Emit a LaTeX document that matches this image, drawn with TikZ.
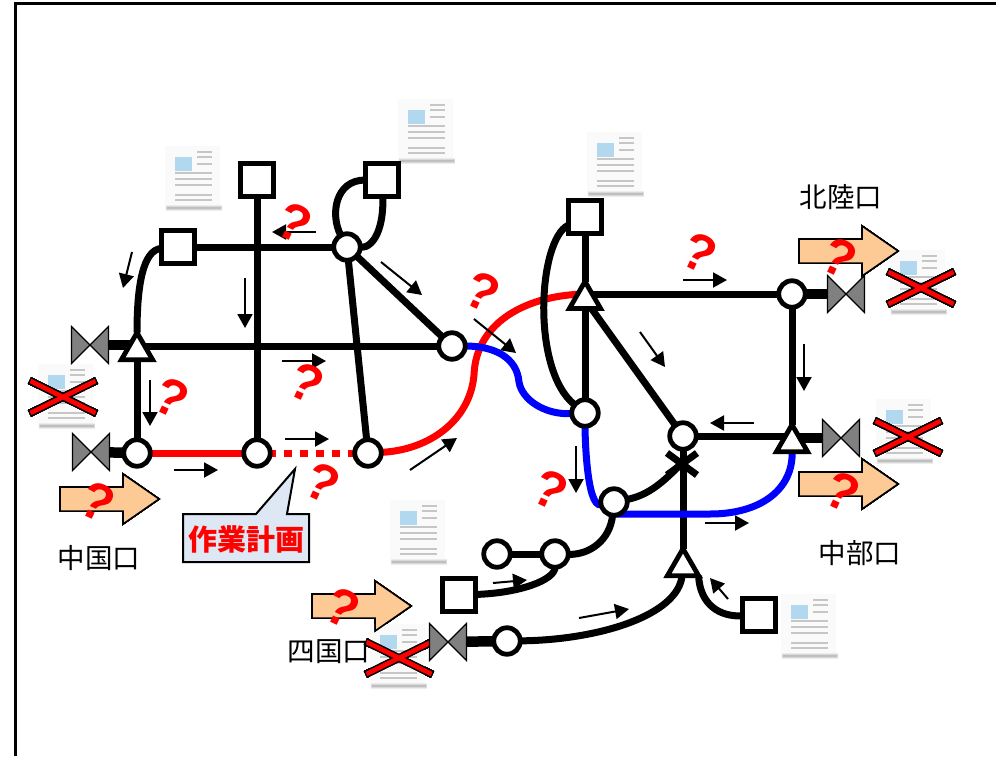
\documentclass[tikz,border=0pt]{standalone}
\usepackage{fontspec}
\setmainfont{Liberation Sans}
\newfontfamily\cjk{Noto Sans CJK JP}
\usetikzlibrary{arrows.meta}
\usetikzlibrary{backgrounds}
\usetikzlibrary{shapes.geometric}
\definecolor{gatefill}{gray}{.5}
\definecolor{inflow}{RGB}{253,202,150}
\definecolor{balloon}{RGB}{222,232,244}
\definecolor{sheetblue}{RGB}{178,216,240}
\tikzset{
  station/.style={circle, draw, line width=4.8pt, fill=white, minimum size=26.5pt, inner sep=0pt, outer sep=0pt},
  depot/.style={rectangle, draw, line width=4.8pt, fill=white, minimum size=33.5pt, inner sep=0pt, outer sep=0pt},
  branch/.style={regular polygon, regular polygon sides=3, draw, line width=4.8pt, fill=white, minimum size=36pt, inner sep=0pt, outer sep=0pt},
  gate/.style={minimum width=37pt, minimum height=37pt, inner sep=0pt, outer sep=0pt},
  line/.style={line width=7pt},
  feed/.style={line width=10.5pt},
  planned/.style={line width=7pt, red},
  rerouted/.style={line width=7pt, blue},
  flow/.style={line width=2pt, -{Triangle[length=14pt, width=15pt]}},
  place/.style={font=\cjk\fontsize{27.5}{27.5}\selectfont},
  doubt/.style={font=\bfseries\fontsize{52}{52}\selectfont, text=red, rotate=-25, inner sep=0pt}
}
\newcommand{\gatenode}[3]{
  \node [gate] (#1) at (#2,#3) {};
  \draw[line width=1.2pt, fill=gatefill] (#1.north west) -- (#1.south east) -- (#1.north east) -- (#1.south west) -- cycle;
}
\newcommand{\sheet}[2]{
  \begin{scope}[shift={(#1,#2)}]
    \fill[gray!4] (-27,-33) rectangle (28,30);
    \fill[sheetblue] (-17,-22) rectangle (0,-8);
    \draw[gray!45, line width=1.4pt] (5,-27) -- (20,-27) (5,-22) -- (20,-22) (5,-15) -- (20,-15);
    \draw[gray!45, line width=1.4pt] (-17,-6) -- (20,-6) (-17,0) -- (20,0) (-17,6) -- (20,6) (-17,16) -- (20,16) (-17,21) -- (20,21);
    \draw[gray!15, line width=6pt] (-26,29) -- (30,29);
    \draw[gray!30, line width=4pt] (-26,29) -- (30,29);
    \draw[gray!50, line width=2pt] (-25,29) -- (29,29);
  \end{scope}
}
\newcommand{\cancelmark}[2]{
  \begin{scope}[shift={(#1,#2)}]
    \draw[line width=7.5pt] (-33.5,-16.5) -- (33.5,16.5) (-33.5,16.5) -- (33.5,-16.5);
    \draw[line width=4.6pt, red] (-32.5,-16) -- (32.5,16) (-32.5,16) -- (32.5,-16);
  \end{scope}
}

\begin{document}
\begin{tikzpicture}[x=1pt, y=-1pt]
  \useasboundingbox (0,0) rectangle (996,756);
  \draw[line width=2.5pt] (15.5,756) -- (15.5,3.5) -- (996,3.5);

  % sheets and inflow arrows stay under the network
  \foreach \sx/\sy in {192/179, 425/132, 614/165, 917/283, 903/432, 65/397, 417/533, 397/657, 808/627}
    \sheet{\sx}{\sy}
  \cancelmark{63}{397}
  \cancelmark{921}{288}
  \cancelmark{908}{437}
  \cancelmark{399}{658}
  \foreach \ax/\ay in {60/499, 312/606, 799/251, 799/484}
    \draw[line width=1.5pt, fill=inflow, shift={(\ax,\ay)}] (0,-12) -- (63,-12) -- (63,-25) -- (99,0) -- (63,25) -- (63,12) -- (0,12) -- cycle;

  \foreach \name/\x/\y in {c1/137/453, c2/257/453, c3/368/453, c4/452/346, c5/347/247, c6/585/413,
      c7/792/294, c8/683/436, c9/614/502, c10/555/554, c11/497/554, c12/507/641}
    \node [station] (\name) at (\x,\y) {};
  \foreach \name/\x/\y in {s1/178/247, s2/257/180, s3/382/180, s4/585/217, s5/459/595, s6/759/615}
    \node [depot] (\name) at (\x,\y) {};
  \foreach \name/\x/\y in {t1/137/350.7, t2/585/299.5, t3/792/442.7, t4/683/566.7}
    \node [branch] (\name) at (\x,\y) {};
  \gatenode{v1}{90}{345}
  \gatenode{v2}{91}{452}
  \gatenode{v3}{846}{294}
  \gatenode{v4}{841}{438}
  \gatenode{v5}{448}{642}
  \coordinate (joint) at (682,463);
  \coordinate (bend) at (710,514);
  \coordinate (midred) at (474,375);
  \coordinate (midblue) at (519,382);

  \begin{pgfonlayer}{background}
    % red before black, blue last
    \draw[planned] (c1) -- (c2);
    \draw[planned, dash pattern=on 8pt off 8pt, dash phase=2pt] (c2) -- (c3);
    \draw[planned] (c3) .. controls (430,450) and (470,420) .. (midred) .. controls (476,320) and (530,295) .. (t2 |- c7);

    \draw[line] (s1) .. controls (143,250) and (137,285) .. (t1);
    \draw[line] (s1) -- (c5);
    \draw[line] (s2) -- (c2);
    \draw[line] (c4) -- (c4 -| t1);
    \draw[line] (t1) -- (c1);
    \draw[line] (c3) -- (c5);
    \draw[line] (c5) -- (c4);
    \draw[line] (c5) .. controls (330,215) and (335,180) .. (s3);
    \draw[line] (c5) .. controls (375,248) and (384,225) .. (s3);
    \draw[line] (s4) -- (t2);
    \draw[line] (s4) .. controls (538,240) and (531,370) .. (c6);
    \draw[line] (t2) -- (c6);
    \draw[line] (c7) -- (c7 -| t2);
    \draw[line] (t2) -- (c8);
    \draw[line] (c7) -- (t3);
    \draw[line] (c8) -- (c8 -| t3);
    \draw[line] (c8) -- (t4);
    \draw[line] (joint) ++(-15,-10) -- ++(30,22);
    \draw[line] (joint) ++(15,-10) -- ++(-30,22);
    \draw[line] (c9) .. controls (650,495) and (665,480) .. (joint);
    \draw[line] (c9) .. controls (610,540) and (590,555) .. (c10);
    \draw[line] (c10) -- (c11);
    \draw[line] (c10) .. controls (555,580) and (520,593) .. (s5);
    \draw[line] (t4) .. controls (678,615) and (600,640) .. (c12);
    \draw[line] (t4.corner 3) .. controls (700,605) and (720,617) .. (s6);
    \draw[feed] (v1) -- (v1 -| t1);
    \draw[feed] (v2) -- (c1);
    \draw[feed] (c7) -- (v3);
    \draw[feed] (v4) -- (v4 -| t3);
    \draw[feed] (v5) -- (c12);

    \draw[rerouted] (c4) .. controls (495,346) and (517,358) .. (midblue) .. controls (522,400) and (545,415) .. (c6);
    \draw[rerouted] (c6) .. controls (585,430) and (586,508) .. (c9);
    \draw[rerouted] (bend -| c9) -- (bend) .. controls (760,514) and (793,490) .. (t3);
  \end{pgfonlayer}

  % small flow arrows
  \foreach \fx/\fy/\tx/\ty in {132/252/123/288, 245/278/245/328, 316/232/272/232, 282/361/326/361,
      150/380/150/426, 174/470/218/470, 285/439/329/439, 683/280/727/280, 640/332/665/367,
      804/344/804/391, 754/423/710/423, 410/470/457/438, 576/446/576/493, 705/523/749/523,
      493/583/527/580, 579/618/629/609, 728/599/710/578, 381/262/422/295, 474/319/516/353}
    \draw[flow] (\fx,\fy) -- (\tx,\ty);

  \draw[line width=2pt, fill=balloon] (183,514) -- (256,514) -- (295,469) -- (287,514) -- (309,514) -- (309,562) -- (183,562) -- cycle;
  \node [font=\cjk\bfseries\fontsize{29}{29}\selectfont, text=red] (plan) at (246,539) {作業計画};
  \node [place] (chugoku) at (99,558) {中国口};
  \node [place] (shikoku) at (329,652) {四国口};
  \node [place] (hokuriku) at (841,197) {北陸口};
  \node [place] (chubu) at (860,553) {中部口};

  \foreach \qx/\qy in {295/223, 172/398, 307/383, 323/483, 98/502, 343/608, 700/253, 840/258, 551/490, 843/492, 483/292}
    \node [doubt] (q\qx) at (\qx,\qy) {?};
\end{tikzpicture}
\end{document}
